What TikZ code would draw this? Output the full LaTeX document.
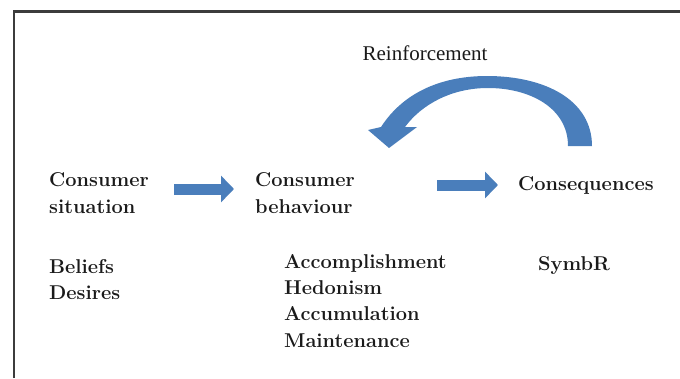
\documentclass[tikz,border=0pt]{standalone}
\usepackage{fontspec}
\newfontfamily\timesface{Liberation Serif}
\usetikzlibrary{arrows.meta,calc}
\definecolor{cb-blue}{HTML}{4A7EBB}
\definecolor{cb-text}{HTML}{1A1A1A}
\definecolor{cb-frame}{HTML}{3C3C3C}
\tikzset{
  word/.style={font=\fontsize{20}{26.3}\selectfont\bfseries, text=cb-text, inner sep=0pt, align=left},
  plain/.style={font=\fontsize{21}{26}\timesface, text=cb-text, inner sep=0pt},
  flow/.style={cb-blue, line width=11pt, -{Triangle[length=13pt,width=26pt]}}
}

\begin{document}
\begin{tikzpicture}[x=1pt, y=-1pt]
    \useasboundingbox (0,0) rectangle (680,378);
    % frame, open at the right and bottom
    \draw[cb-frame, line width=2.5pt] (14,378) -- (14,11.5) -- (680,11.5);
    % the three stages
    \node[word, anchor=west] (sit) at (49,193) {Consumer\\situation};
    \node[word, anchor=west] (beh) at (255,193) {Consumer\\behaviour};
    \node[word, anchor=west] (cons) at (518,185) {Consequences};
    % what belongs to each stage
    \node[word, anchor=north west] (sitlist) at (49,259) {Beliefs\\Desires};
    \node[word, anchor=north west] (behlist) at (284,254) {Accomplishment\\Hedonism\\Accumulation\\Maintenance};
    \node[word, anchor=base west] (conslist) at (538,270) {SymbR};
    \node[plain, anchor=base] (reinf) at (425,60) {Reinforcement};
    % block arrows
    \draw[flow, shorten <=25pt, shorten >=21pt] (sit.east |- 0,189) -- (beh.west |- 0,189);
    \draw[flow, shorten <=82pt, shorten >=20pt] (beh.east |- cons.west) -- (cons.west);
    % reinforcement loop back to behaviour
    \fill[cb-blue] (568,146) .. controls (568,108) and (530,88) .. (488,88)
        .. controls (452,88) and (422,104) .. (405,127)
        -- (417,127) -- (389,148) -- (368,130) -- (381,127)
        .. controls (405,90) and (445,76) .. (487,76)
        .. controls (545,76) and (592,100) .. (592,146) -- cycle;
\end{tikzpicture}
\end{document}
